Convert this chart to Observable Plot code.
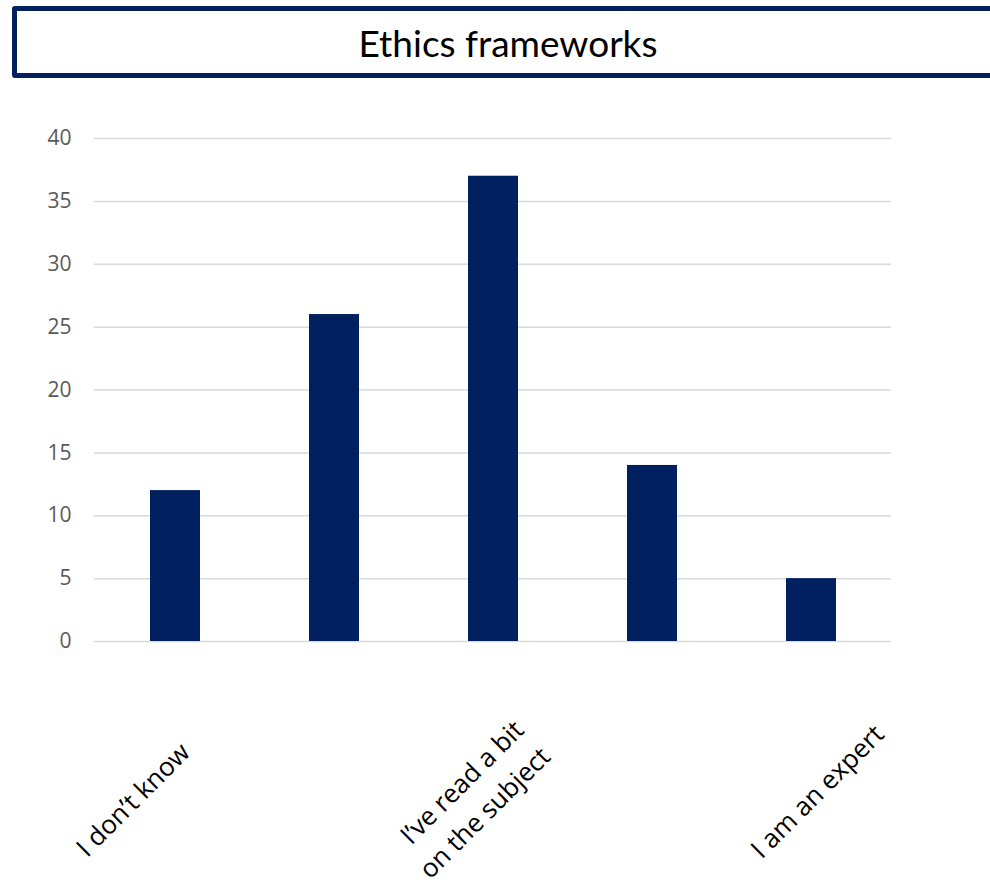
<!DOCTYPE html>
<html>
<head>
<meta charset="utf-8">
<script src="https://cdn.jsdelivr.net/npm/d3@7"></script>
<script src="https://cdn.jsdelivr.net/npm/@observablehq/plot@0.6"></script>
<style>
  html, body { margin: 0; padding: 0; background: #ffffff; overflow: hidden; }
  #wrap { position: relative; width: 990px; height: 890px; overflow: hidden; background: #fff; }
  #title {
    position: absolute; left: 12px; top: 6px; width: 992px; height: 72px;
    box-sizing: border-box; border: 5px solid #002060; border-radius: 3px;
    display: flex; align-items: center; justify-content: center;
    font-family: Lato, "Noto Sans", sans-serif; font-size: 37px; color: #000;
    background: #fff; z-index: 2;
  }
  #chart { position: absolute; left: 0; top: 0; }
</style>
</head>
<body>
<div id="wrap">
  <div id="title">Ethics frameworks</div>
  <div id="chart"></div>
</div>
<script>
// ---- data ----
const categories = ["I don’t know", "", "I’ve read a bit\non the subject", "", "I am an expert"];
const values = [12, 26, 37, 14, 5];
const yTicks = [0, 5, 10, 15, 20, 25, 30, 35, 40];

// ---- chart ----
const idx = categories.map((_, i) => i);
const rows = idx.map(i => ({i, label: categories[i], value: values[i]}));

const labelMarks = rows
  .filter(r => r.label !== "")
  .map(r => Plot.text([r], {
    x: "i",
    y: () => 0,
    text: "label",
    rotate: -45,
    textAnchor: "end",
    lineAnchor: "middle",
    lineHeight: 1.45,
    fontSize: 26,
    fontFamily: "'Open Sans', sans-serif",
    fill: "#000",
    dx: 7.5 + 14.5 * r.i,
    dy: 104 - 4.5 * r.i
  }));

const chart = Plot.plot({
  width: 990,
  height: 890,
  marginTop: 138,
  marginBottom: 249,
  marginLeft: 94,
  marginRight: 99,
  style: {background: "transparent", overflow: "visible"},
  x: {domain: idx, paddingInner: 0.686, paddingOuter: 0.343, axis: null},
  y: {domain: [0, 40], axis: null},
  marks: [
    Plot.gridY(yTicks, {stroke: "#d9d9d9", strokeOpacity: 1, strokeWidth: 1.5}),
    Plot.barY(rows, {x: "i", y: "value", fill: "#002060"}),
    Plot.axisY(yTicks, {
      tickSize: 0,
      tickPadding: 23,
      fontSize: 21,
      fontFamily: "'Open Sans', sans-serif",
      fill: "#595959",
      label: null
    }),
    ...labelMarks
  ]
});
document.getElementById("chart").appendChild(chart);
</script>
</body>
</html>
